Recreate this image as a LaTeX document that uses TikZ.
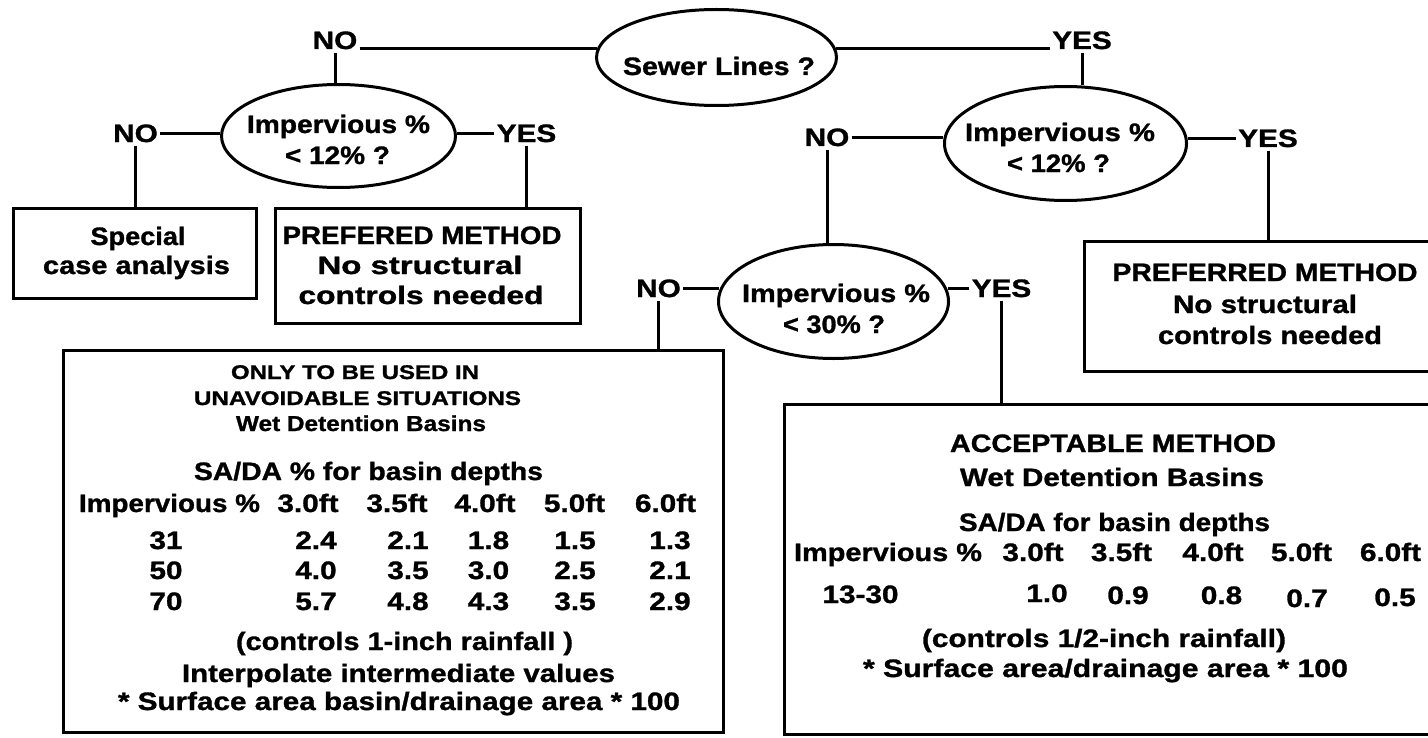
\documentclass[tikz,border=0pt]{standalone}
\usepackage{fontspec}
\setmainfont{Liberation Sans}[FakeStretch=1.18, BoldFeatures={FakeBold=1.2}]
\usepackage{graphicx}
\usetikzlibrary{shapes.geometric}
\newsavebox\fwbox
\newcommand\fw[2]{\sbox\fwbox{#2}\pgfmathsetmacro\fwr{(#1*0.5)/\the\wd\fwbox}\scalebox{\fwr}[1]{\usebox\fwbox}}
\tikzset{
  t/.style={inner sep=0pt, anchor=base, font=\bfseries\fontsize{12.6}{15}\selectfont},
  ts/.style={t, font=\bfseries\fontsize{9.9}{12}\selectfont},
  tw/.style={t, font=\bfseries\fontsize{10.8}{13}\selectfont},
  ell/.style={draw, ellipse, line width=1.5pt, inner sep=0pt},
  bx/.style={draw, rectangle, line width=1.5pt, inner sep=0pt},
  cn/.style={line width=1.5pt}
}
\begin{document}
\begin{tikzpicture}[x=0.5pt,y=-0.5pt]
\useasboundingbox (0,0) rectangle (1428,738);
\clip (0,0) rectangle (1428,738);
\fill[white] (0,0) rectangle (1428,738);
% shapes
\node[ell, minimum width=120pt, minimum height=48pt] (sewer) at (716.5,57.5) {};
\node[ell, minimum width=117pt, minimum height=51.5pt] (limp) at (338.5,136) {};
\node[ell, minimum width=121pt, minimum height=57pt] (rimp) at (1065.5,143.5) {};
\node[ell, minimum width=115pt, minimum height=57pt] (mimp) at (833.5,301.5) {};
\node[bx, minimum width=121.5pt, minimum height=45pt] (special) at (135,253.5) {};
\node[bx, minimum width=152.5pt, minimum height=57.5pt] (lpref) at (428,266) {};
\node[bx, minimum width=180.5pt, minimum height=65pt] (rpref) at (1265,306.5) {};
\node[bx, minimum width=330pt, minimum height=191pt] (lbig) at (393.5,541.5) {};
\node[bx, minimum width=328.5pt, minimum height=165pt] (rbig) at (1113,569.5) {};
% labels
\node[t] (tno) at (335,49) {NO};
\node[t] (tyes) at (1082,49) {YES};
\node[t] (lno) at (135.5,142) {NO};
\node[t] (lyes) at (526.5,142) {YES};
\node[t] (rno) at (827,146) {NO};
\node[t] (ryes) at (1268,147) {YES};
\node[t] (mno) at (658.5,297) {NO};
\node[t] (myes) at (1001.5,297) {YES};
% connectors
\draw[cn, shorten <=1pt, shorten >=-1pt] (tno.base east) -- (tno.base east -| sewer.west);
\draw[cn, shorten <=1pt, shorten >=-1pt] (tyes.base west) -- (tyes.base west -| sewer.east);
\draw[cn, shorten <=1.5pt] (tno.south) -- (tno.south |- limp.north);
\draw[cn, shorten <=1.5pt] (tyes.south) -- (tyes.south |- rimp.north);
\draw[cn, shorten <=1pt] (lno.east) -- (lno.east -| limp.west);
\draw[cn, shorten <=1pt] (lyes.west) -- (lyes.west -| limp.east);
\draw[cn, shorten <=1.5pt] (lno.south) -- (lno.south |- special.north);
\draw[cn, shorten <=1.5pt] (lyes.south) -- (lyes.south |- lpref.north);
\draw[cn, shorten <=1pt] (rno.east) -- (rno.east -| rimp.west);
\draw[cn, shorten <=1pt] (ryes.west) -- (ryes.west -| rimp.east);
\draw[cn, shorten <=1.5pt] (rno.south) -- (rno.south |- mimp.north);
\draw[cn, shorten <=1.5pt] (ryes.south) -- (ryes.south |- rpref.north);
\draw[cn, shorten <=1pt, shorten >=-1pt] (mno.east) -- (mno.east -| mimp.west);
\draw[cn, shorten <=1pt, shorten >=-1pt] (myes.west) -- (myes.west -| mimp.east);
\draw[cn, shorten <=1.5pt] (mno.south) -- (mno.south |- lbig.north);
\draw[cn, shorten <=1.5pt] (myes.south) -- (myes.south |- rbig.north);
% decision texts
\node[t] (sewert) at (719,75) {\fw{192}{Sewer Lines ?}};
\node[t] (limpa) at (338.5,133) {\fw{183}{Impervious \%}};
\node[t] (limpb) at (337.5,164) {\fw{105}{< 12\% ?}};
\node[t] (rimpa) at (1060,141) {\fw{190}{Impervious \%}};
\node[t] (rimpb) at (1058.5,172) {\fw{103}{< 12\% ?}};
\node[t] (mimpa) at (836,302) {\fw{188}{Impervious \%}};
\node[t] (mimpb) at (834,333) {\fw{102}{< 30\% ?}};
% small boxes
\node[t] (spa) at (138,245) {\fw{95}{Special}};
\node[t] (spb) at (136.5,274) {\fw{187}{case analysis}};
\node[t] (lpa) at (422,244) {\fw{279}{PREFERED METHOD}};
\node[t] (lpb) at (420,274) {\fw{205}{No structural}};
\node[t] (lpc) at (421,304) {\fw{245}{controls needed}};
\node[t] (rpa) at (1265,281) {\fw{305}{PREFERRED METHOD}};
\node[t] (rpb) at (1265,313) {\fw{184}{No structural}};
\node[t] (rpc) at (1270,344) {\fw{224}{controls needed}};
% left big box
\node[ts] (la) at (355,379) {\fw{248}{ONLY TO BE USED IN}};
\node[ts] (lb) at (357.5,405) {\fw{327}{UNAVOIDABLE SITUATIONS}};
\node[tw] (lc) at (361,431) {\fw{250}{Wet Detention Basins}};
\node[t] (ld) at (368.5,480) {\fw{349}{SA/DA \% for basin depths}};
\node[t] (lh0) at (169.5,512) {\fw{181}{Impervious \%}};
\node[t] (lh1) at (308,512) {3.0ft};
\node[t] (lh2) at (397,512) {3.5ft};
\node[t] (lh3) at (485,512) {4.0ft};
\node[t] (lh4) at (574.5,512) {5.0ft};
\node[t] (lh5) at (665.5,512) {6.0ft};
\node[t] (lr1) at (166,549) {31};
\node[t] (lr2) at (166,579) {50};
\node[t] (lr3) at (166,610) {70};
\node[t] (v11) at (316,549) {2.4};
\node[t] (v12) at (408,549) {2.1};
\node[t] (v13) at (488.5,549) {1.8};
\node[t] (v14) at (575,549) {1.5};
\node[t] (v15) at (670,549) {1.3};
\node[t] (v21) at (316,579) {4.0};
\node[t] (v22) at (408,579) {3.5};
\node[t] (v23) at (488.5,579) {3.0};
\node[t] (v24) at (575,579) {2.5};
\node[t] (v25) at (670,579) {2.1};
\node[t] (v31) at (316,610) {5.7};
\node[t] (v32) at (408,610) {4.8};
\node[t] (v33) at (488.5,610) {4.3};
\node[t] (v34) at (575,610) {3.5};
\node[t] (v35) at (670,610) {2.9};
\node[t] (le) at (404.5,650) {\fw{337}{(controls 1-inch rainfall )}};
\node[t] (lf) at (398.5,682) {\fw{433}{Interpolate intermediate values}};
\node[t] (lg) at (399,710) {\fw{562}{* Surface area basin/drainage area * 100}};
% right big box
\node[t] (ra) at (1113,452) {\fw{326}{ACCEPTABLE METHOD}};
\node[t] (rb) at (1112,486) {\fw{304}{Wet Detention Basins}};
\node[t] (rc) at (1114.5,531) {\fw{311}{SA/DA for basin depths}};
\node[t] (rh0) at (888,561) {\fw{188}{Impervious \%}};
\node[t] (rh1) at (1033,561) {3.0ft};
\node[t] (rh2) at (1121.5,561) {3.5ft};
\node[t] (rh3) at (1213,561) {4.0ft};
\node[t] (rh4) at (1301.5,561) {5.0ft};
\node[t] (rh5) at (1390.5,561) {6.0ft};
\node[t] (rr1) at (860.5,603) {13-30};
\node[t] (w1) at (1047,602) {1.0};
\node[t] (w2) at (1128,604) {0.9};
\node[t] (w3) at (1221.5,604) {0.8};
\node[t] (w4) at (1307,607) {0.7};
\node[t] (w5) at (1395,606) {0.5};
\node[t] (re) at (1104,647) {\fw{364}{(controls 1/2-inch rainfall)}};
\node[t] (rf) at (1105.5,677) {\fw{485}{* Surface area/drainage area * 100}};
\end{tikzpicture}
\end{document}
